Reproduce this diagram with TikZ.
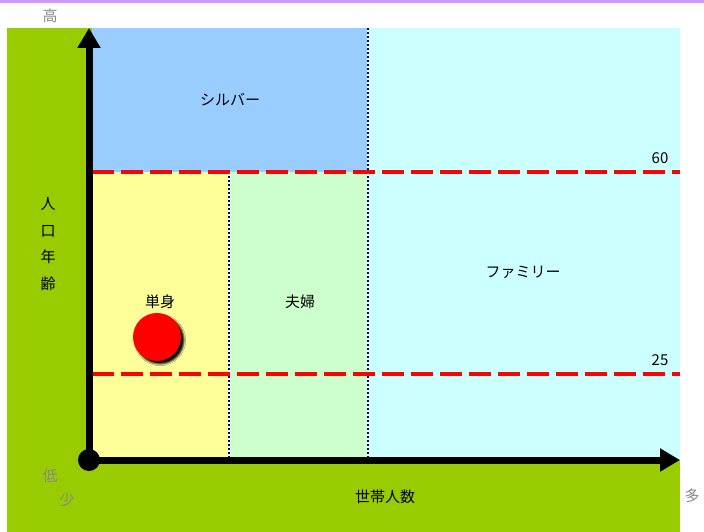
\documentclass[tikz,border=0pt]{standalone}
\usepackage{fontspec}
\newfontfamily\jp{Noto Sans CJK JP}
\usetikzlibrary{arrows.meta,shadows.blur}
\definecolor{bggreen}{HTML}{99CC00}
\definecolor{silvercol}{HTML}{99CCFF}
\definecolor{famcol}{HTML}{CCFFFF}
\definecolor{singlecol}{HTML}{FFFF99}
\definecolor{couplecol}{HTML}{CCFFCC}
\definecolor{topbar}{HTML}{CC99FF}
\definecolor{graytxt}{HTML}{888888}
\definecolor{navycol}{HTML}{000080}
\tikzset{
  lbl/.style={font=\jp\fontsize{15}{18}\selectfont, text=black, inner sep=0pt},
  glbl/.style={font=\jp\fontsize{15}{18}\selectfont, text=graytxt, inner sep=0pt},
  redline/.style={draw=red, line width=4.5pt, dash pattern=on 22pt off 7pt},
  divwhite/.style={draw=white, line width=2pt},
  divline/.style={draw=navycol, line width=2pt, dash pattern=on 2pt off 2pt},
  axis/.style={line width=7pt, -{Triangle[length=20pt,width=22pt]}},
}
\begin{document}
\begin{tikzpicture}[x=1pt,y=-1pt]
\useasboundingbox (0,0) rectangle (704,532);
\fill[white] (0,0) rectangle (704,532);
\fill[topbar] (0,0) rectangle (704,3);
\fill[bggreen] (7,28) rectangle (680,532);
\fill[silvercol] (92,28) rectangle (368,172);
\fill[famcol] (368,28) rectangle (680,460);
\fill[singlecol] (92,172) rectangle (229,460);
\fill[couplecol] (229,172) rectangle (368,460);
\draw[divwhite] (368,28) -- (368,460);
\draw[divline] (368,28) -- (368,460);
\draw[divwhite] (229,172) -- (229,460);
\draw[divline] (229,172) -- (229,460);
\coordinate (l60) at (92,172);
\coordinate (r60) at (680,172);
\coordinate (l25) at (92,374);
\coordinate (r25) at (680,374);
\draw[redline] (l60) -- (r60);
\draw[redline] (l25) -- (r25);
\node[circle, fill=black, minimum size=22pt, inner sep=0pt] (o) at (89,460) {};
\coordinate (ytop) at (89,28);
\coordinate (xend) at (680,460);
\draw[axis] (o.center) -- (ytop);
\draw[axis] (o.center) -- (xend);
\node[circle, fill=red, minimum size=48pt, inner sep=0pt, blur shadow={shadow xshift=3pt, shadow yshift=-3pt, shadow blur steps=3, shadow opacity=100}] (ball) at (157,337) {};
\node[lbl] (silv) at (230,100) {シルバー};
\node[lbl] (fam) at (523,272) {ファミリー};
\node[lbl] (sgl) at (160,302) {単身};
\node[lbl] (cpl) at (300,302) {夫婦};
\node[lbl] (n60) at (660,158) {60};
\node[lbl] (n25) at (660,360) {25};
\node[lbl] (xl) at (385,497) {世帯人数};
\node[lbl, align=center, font=\jp\fontsize{15}{26.5}\selectfont] (yl) at (48,244) {人\\口\\年\\齢};
\node[glbl] (hi) at (50,16) {高};
\node[glbl] (lo) at (50,476) {低};
\node[glbl] (few) at (67,500) {少};
\node[glbl] (many) at (692,496) {多};
\end{tikzpicture}
\end{document}
